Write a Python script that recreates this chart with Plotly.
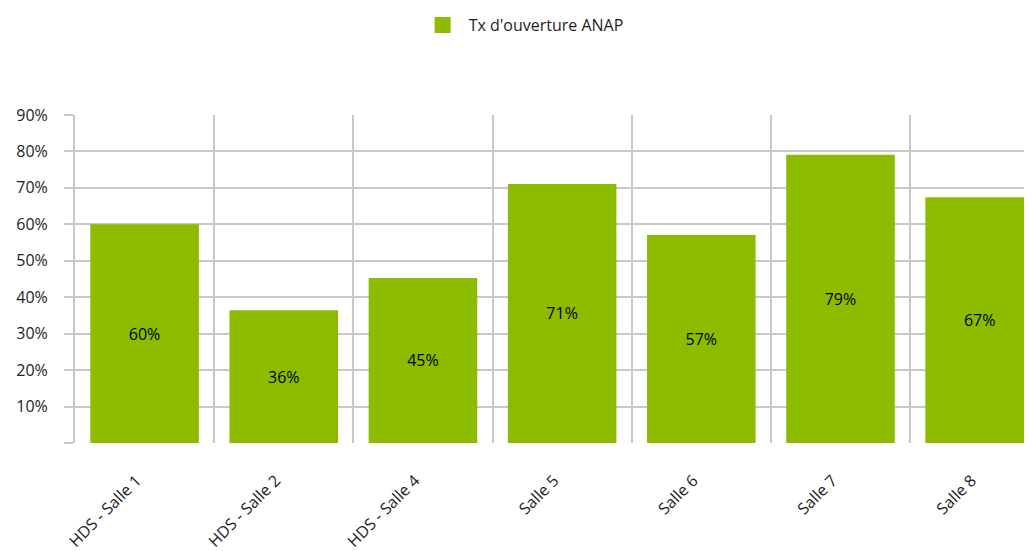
import plotly.graph_objects as go

categories = ["HDS - Salle 1", "HDS - Salle 2", "HDS - Salle 4", "Salle 5", "Salle 6", "Salle 7", "Salle 8"]
values = [0.600, 0.364, 0.453, 0.711, 0.571, 0.791, 0.674]
series_name = "Tx d'ouverture ANAP"
y_tickvals = [0, 0.1, 0.2, 0.3, 0.4, 0.5, 0.6, 0.7, 0.8, 0.9]
y_ticktext = ["", "10%", "20%", "30%", "40%", "50%", "60%", "70%", "80%", "90%"]

GREEN = "#8DBB00"
GRID = "#C8C8C8"
FONT = "Open Sans, Segoe UI, sans-serif"
TXT = "#1E1E1E"

fig = go.Figure()
fig.add_trace(go.Bar(
    x=categories, y=values, name=series_name,
    marker=dict(color=GREEN, line=dict(width=0)),
    width=0.78,
    texttemplate="%{y:.0%}", textposition="inside", insidetextanchor="middle",
    textfont=dict(color="black", size=16, family=FONT),
    showlegend=False,
))
# legend entry with a larger square symbol
fig.add_trace(go.Scatter(
    x=[None], y=[None], mode="markers", name=series_name,
    marker=dict(symbol="square", size=20, color=GREEN),
    showlegend=True,
))

fig.update_layout(
    width=1024, height=543,
    margin=dict(l=67, r=0, t=107, b=108),
    paper_bgcolor="white", plot_bgcolor="white",
    font=dict(family=FONT, size=15, color=TXT),
    legend=dict(orientation="h", x=0.357, xanchor="left", y=1.0, yref="container", yanchor="top",
                font=dict(size=16, family=FONT, color=TXT), itemsizing="trace", itemwidth=42),
    xaxis=dict(
        type="category", range=[-0.5, 6.376],
        tickson="boundaries", showgrid=True, gridcolor=GRID, gridwidth=2,
        ticks="", tickangle=-45, tickfont=dict(size=16, family=FONT, color=TXT),
        ticklabelstandoff=24, ticklabelshift=-8,
        showline=False, zeroline=False,
    ),
    yaxis=dict(
        range=[0, 0.9], tickvals=y_tickvals, ticktext=y_ticktext,
        showgrid=True, gridcolor=GRID, gridwidth=2,
        ticks="outside", ticklen=9, tickcolor=GRID, tickwidth=2,
        ticklabelstandoff=13,
        tickfont=dict(size=16, family=FONT, color=TXT),
        showline=True, linecolor=GRID, linewidth=2, zeroline=False,
    ),
)

fig.write_html("out.html")
